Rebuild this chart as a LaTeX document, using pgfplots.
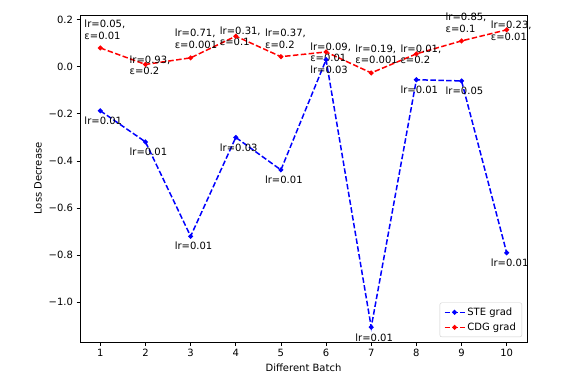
\documentclass[border=0pt]{standalone}
\usepackage{pgfplots}
\pgfplotsset{compat=1.18}
\usepackage{fontspec}
\setmainfont{DejaVu Sans}
\begin{document}
\begin{tikzpicture}[font=\fontsize{10bp}{12bp}\selectfont]
\begin{axis}[name=ax, scale only axis, width=447bp, height=327bp,
  xmin=0.55, xmax=10.45, ymin=-1.169, ymax=0.22,
  xtick={1,...,10}, ytick={-1.0,-0.8,-0.6,-0.4,-0.2,0,0.2},
  yticklabels={−1.0,−0.8,−0.6,−0.4,−0.2,0.0,0.2},
  tick align=outside, major tick length=3.5bp,
  tick style={black, line width=0.8bp}, tick pos=left,
  axis line style={line width=0.8bp},
  /pgf/number format/assume math mode=true,
  xlabel={Different Batch}, ylabel={Loss Decrease},
  clip=false,
  legend style={at={(0.989,0.015)}, anchor=south east, draw=black!20, rounded corners=2bp, fill=white, fill opacity=0.8, text opacity=1, font=\fontsize{10bp}{12bp}\selectfont, row sep=2bp, inner xsep=4bp, inner ysep=3bp},
  legend cell align=left,
  legend image code/.code={\draw[mark repeat=2,mark phase=2] plot coordinates {(0bp,0bp) (10bp,0bp) (20bp,0bp)};},
]
\addplot[blue, line width=1.5bp, dash pattern=on 5.5bp off 2.4bp, mark=*, mark size=1.6bp, mark options={solid}] coordinates {
(1,-0.187) (2,-0.319) (3,-0.72) (4,-0.30) (5,-0.438) (6,0.03) (7,-1.106) (8,-0.055) (9,-0.06) (10,-0.79)};
\addplot[red, line width=1.5bp, dash pattern=on 5.5bp off 2.4bp, mark=*, mark size=1.6bp, mark options={solid}] coordinates {
(1,0.08) (2,0.01) (3,0.038) (4,0.13) (5,0.043) (6,0.063) (7,-0.026) (8,0.055) (9,0.11) (10,0.157)};
\legend{STE grad, CDG grad}
\tikzset{lab/.style={anchor=west, inner sep=0pt, align=left, font=\fontsize{10bp}{11.5bp}\selectfont}}
\node[lab] at (0.645,0.157) {lr=0.05,\\ε=0.01};
\node[lab] at (1.645,0.006) {lr=0.93,\\ε=0.2};
\node[lab] at (2.645,0.119) {lr=0.71,\\ε=0.001};
\node[lab] at (3.645,0.130) {lr=0.31,\\ε=0.1};
\node[lab] at (4.645,0.119) {lr=0.37,\\ε=0.2};
\node[lab] at (5.645,0.062) {lr=0.09,\\ε=0.01};
\node[lab] at (6.645,0.053) {lr=0.19,\\ε=0.001};
\node[lab] at (7.645,0.053) {lr=0.01,\\ε=0.2};
\node[lab] at (8.645,0.187) {lr=0.85,\\ε=0.1};
\node[lab] at (9.645,0.153) {lr=0.23,\\ε=0.01};
\node[lab] at (0.645,-0.230) {lr=0.01};
\node[lab] at (1.645,-0.362) {lr=0.01};
\node[lab] at (2.645,-0.762) {lr=0.01};
\node[lab] at (3.645,-0.345) {lr=0.03};
\node[lab] at (4.645,-0.481) {lr=0.01};
\node[lab] at (5.645,-0.013) {lr=0.03};
\node[lab] at (6.645,-1.149) {lr=0.01};
\node[lab] at (7.645,-0.098) {lr=0.01};
\node[lab] at (8.645,-0.102) {lr=0.05};
\node[lab] at (9.645,-0.834) {lr=0.01};
\end{axis}
\path ([shift={(-80bp,-42bp)}]ax.south west) rectangle ([shift={(42bp,15bp)}]ax.north east);
\end{tikzpicture}
\end{document}
